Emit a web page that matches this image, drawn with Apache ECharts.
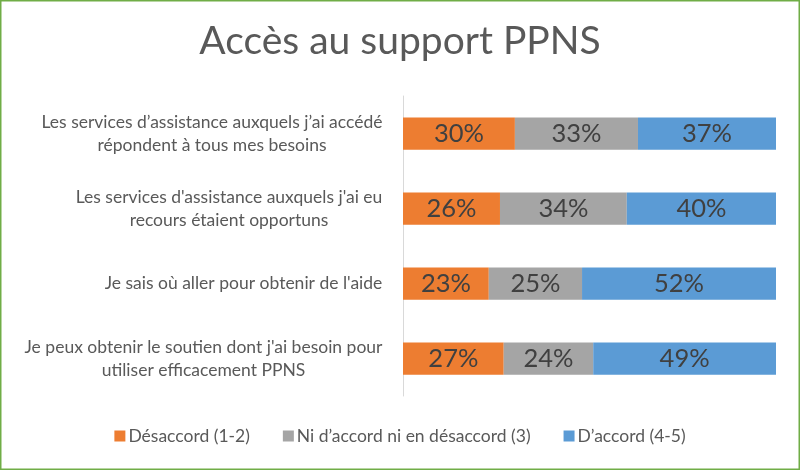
<!DOCTYPE html>
<html>
<head>
<meta charset="utf-8">
<script src="https://cdn.jsdelivr.net/npm/echarts@6/dist/echarts.min.js"></script>
<style>html,body{margin:0;padding:0;background:#fff;}#c{width:800px;height:470px;}</style>
</head>
<body>
<div id="c"></div>
<script>
var categories = [
  "Les services d\u2019assistance auxquels j\u2019ai accédé\nrépondent à tous mes besoins",
  "Les services d'assistance auxquels j'ai eu\nrecours étaient opportuns",
  "Je sais où aller pour obtenir de l'aide",
  "Je peux obtenir le soutien dont j'ai besoin pour\nutiliser efficacement PPNS"
];
var seriesNames = ["Désaccord (1-2)", "Ni d\u2019accord ni en désaccord (3)", "D\u2019accord (4-5)"];
var disagree = [30, 26, 23, 27];
var neutral = [33, 34, 25, 24];
var agree = [37, 40, 52, 49];
var colors = ["#ED7D31", "#A5A5A5", "#5B9BD5"];

var font = "Lato, 'Open Sans', sans-serif";
var catFontSize = 17.5;

// measure each label's widest line so lines can be centred within the block
var cv = document.createElement('canvas').getContext('2d');
cv.font = catFontSize + 'px ' + font;
var rich = {};
categories.forEach(function (c, i) {
  var w = 0;
  c.split('\n').forEach(function (l) { w = Math.max(w, cv.measureText(l).width); });
  rich['c' + i] = { width: Math.ceil(w) + 1, align: 'center', fontSize: catFontSize, lineHeight: 23, color: '#595959', fontFamily: font };
});

var chart = echarts.init(document.getElementById('c'));
function mk(name, data, color) {
  return {
    name: name, type: 'bar', stack: 'total', data: data, barWidth: '43%',
    itemStyle: { color: color },
    label: { show: true, position: 'inside', formatter: '{c}%', fontSize: 25.5, color: '#404040', fontFamily: font },
    emphasis: { disabled: true }
  };
}
chart.setOption({
  animation: false,
  textStyle: { fontFamily: font },
  title: { text: 'Accès au support PPNS', left: 'center', top: 17, textStyle: { fontSize: 39, fontWeight: 'normal', color: '#595959', fontFamily: font } },
  legend: {
    bottom: 20, left: 'center', itemWidth: 11, itemHeight: 11, itemGap: 33,
    icon: 'rect',
    textStyle: { fontSize: 17.5, color: '#595959', fontFamily: font, padding: [0, 0, 0, -2] },
    data: seriesNames
  },
  grid: { left: 403, right: 24, top: 96, bottom: 74 },
  xAxis: { type: 'value', min: 0, max: 100, show: false },
  yAxis: {
    type: 'category', data: categories, inverse: true,
    axisLine: { show: true, lineStyle: { color: '#D9D9D9', width: 1 } },
    axisTick: { show: false },
    axisLabel: {
      fontSize: catFontSize, color: '#595959', margin: 20, align: 'right', lineHeight: 23, fontFamily: font,
      formatter: function (v, idx) {
        return v.split('\n').map(function (l) { return '{c' + idx + '|' + l + '}'; }).join('\n');
      },
      rich: rich
    }
  },
  graphic: [{ type: 'rect', shape: { x: 0.75, y: 0.75, width: 798.5, height: 468.5 }, style: { fill: 'none', stroke: '#70AD47', lineWidth: 1.5 }, silent: true }],
  series: [mk(seriesNames[0], disagree, colors[0]), mk(seriesNames[1], neutral, colors[1]), mk(seriesNames[2], agree, colors[2])]
});
</script>
</body>
</html>
